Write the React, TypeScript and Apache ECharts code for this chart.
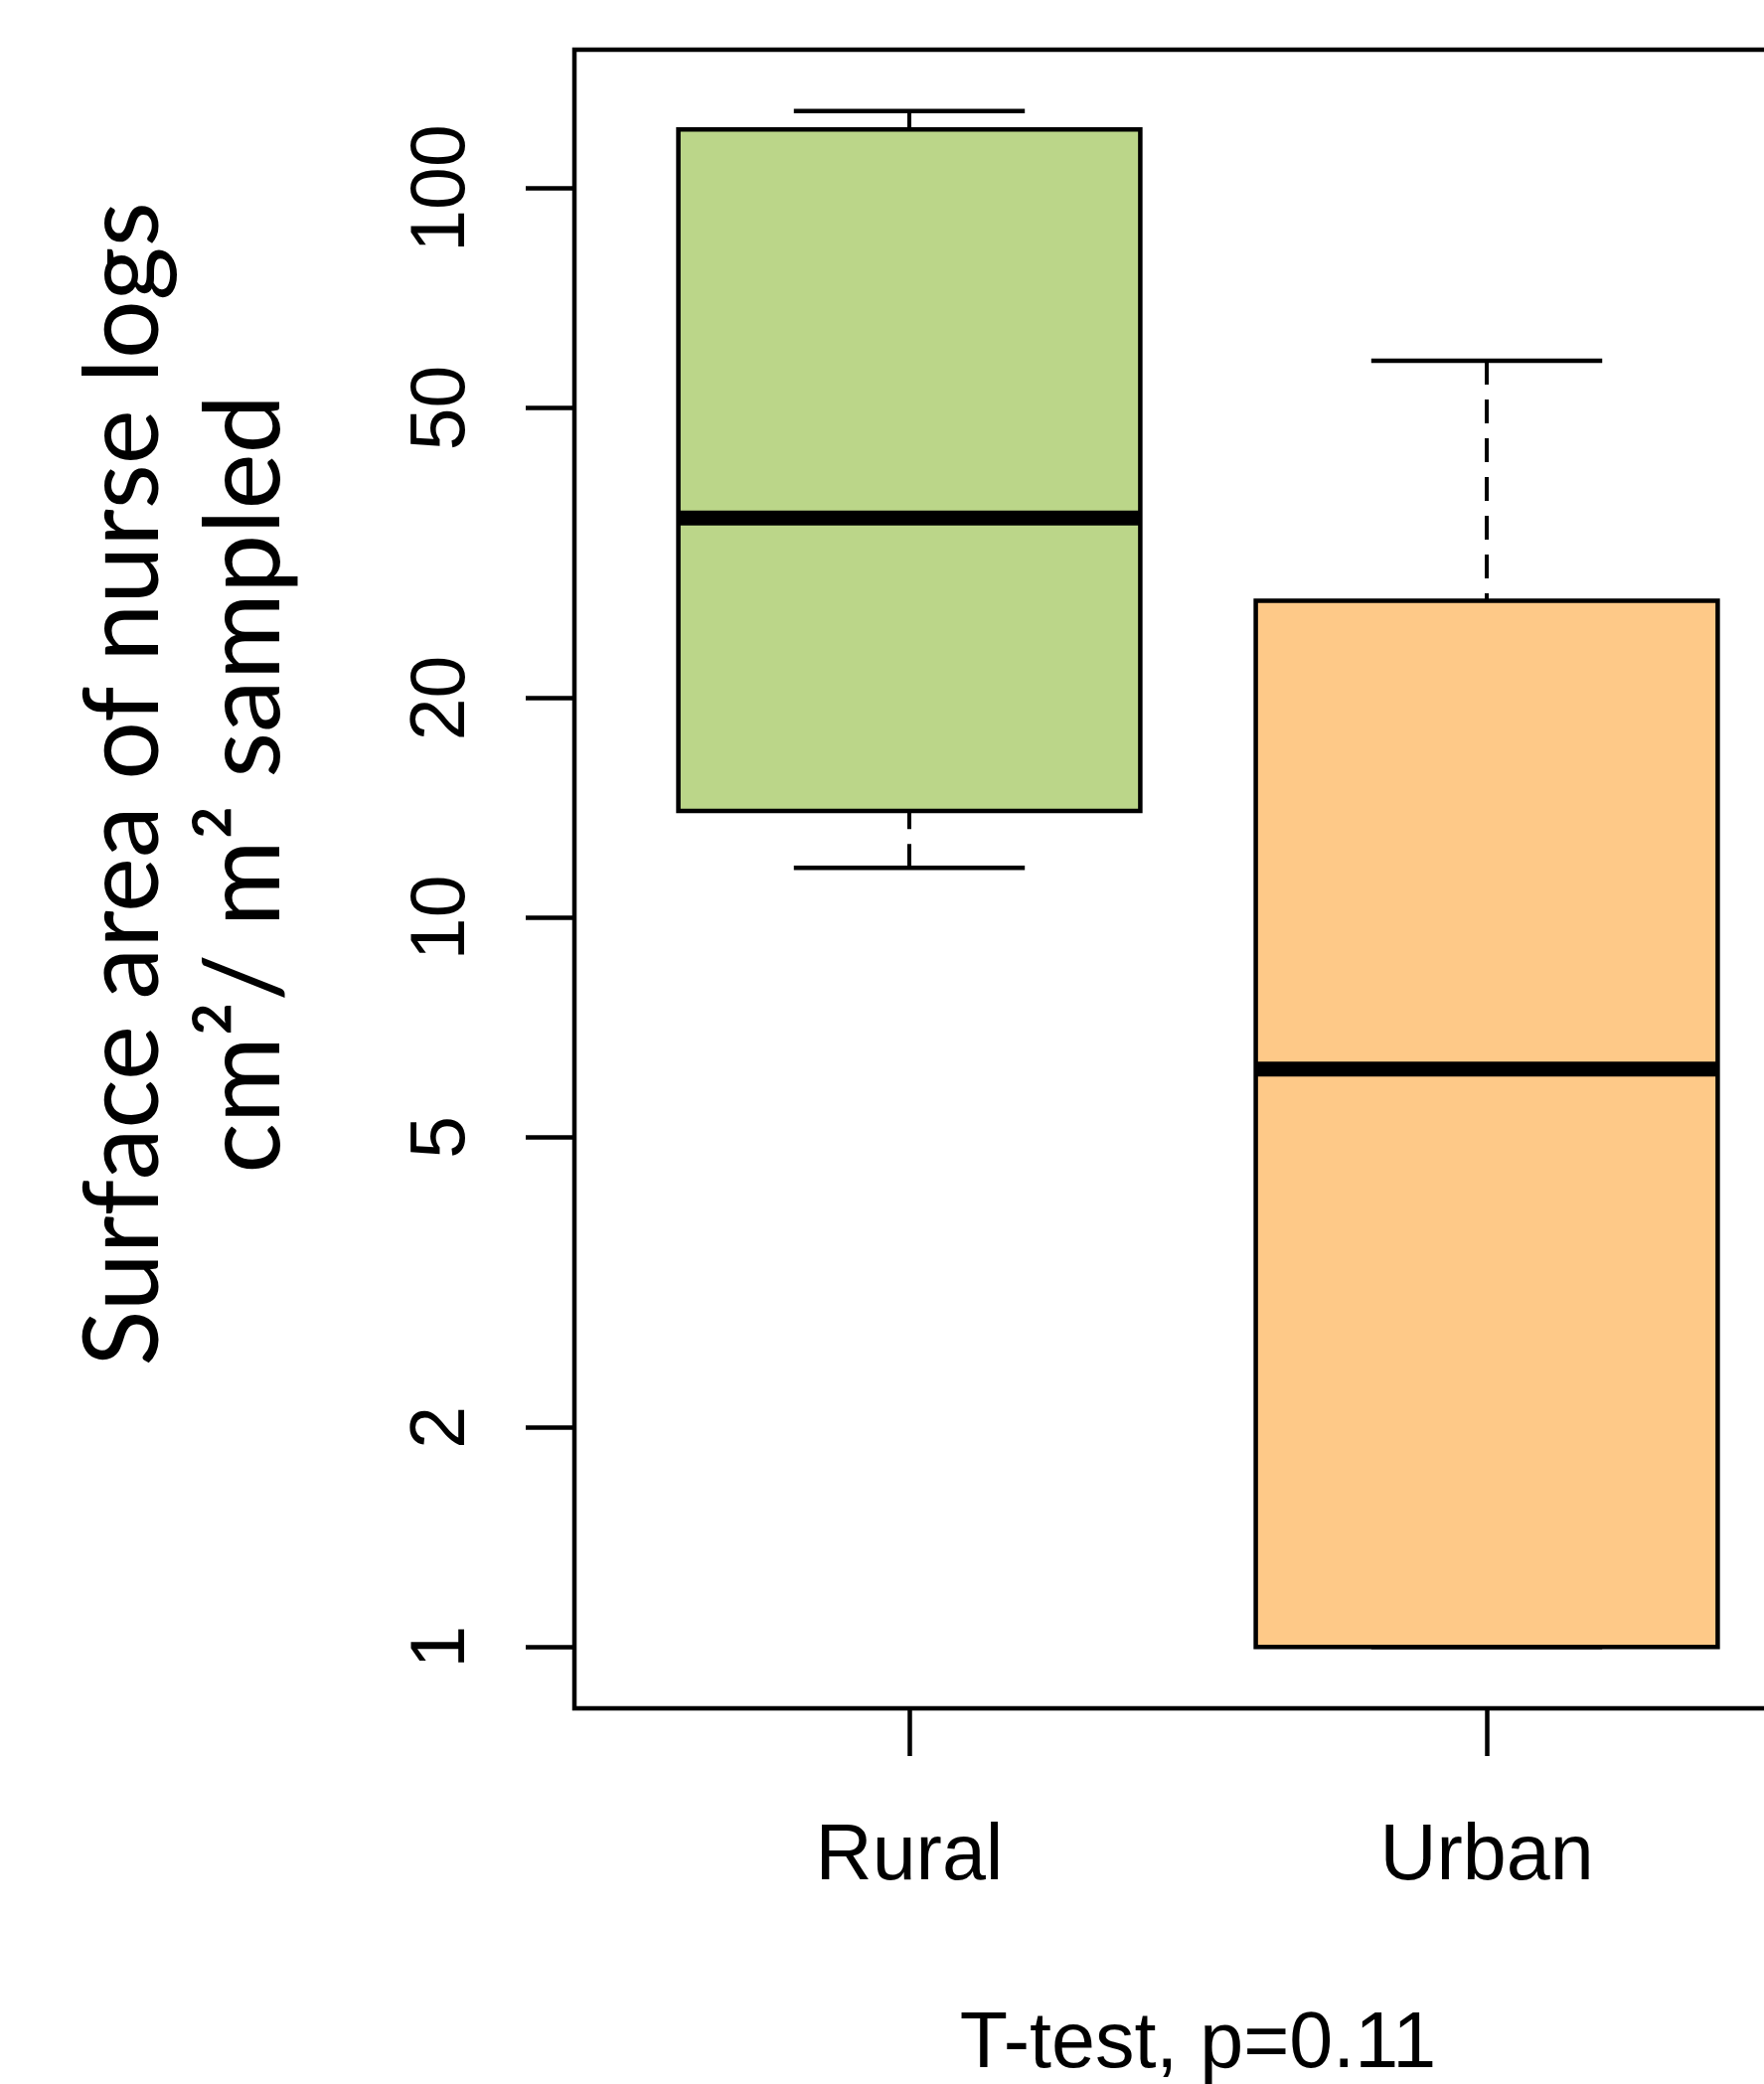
import React, { useEffect, useRef } from "react";
import * as echarts from "echarts";

// ---- data ----
const categories = ["Rural", "Urban"];
const whiskerLow = [11.7, 1.0];
const quartile1 = [14.0, 1.0];
const medians = [35.3, 6.2];
const quartile3 = [120.4, 27.2];
const whiskerHigh = [127.6, 58.0];
const boxColors = ["#BBD689", "#FEC988"];
const yTickValues = [1, 2, 5, 10, 20, 50, 100];
const yTickLabels = ["1", "2", "5", "10", "20", "50", "100"];
const yTitleLines = ["Surface area of nurse logs", "cm²/ m² sampled"];
const xTitle = "T-test, p=0.11";

const BOX_WIDTH = 0.8;
const CAP_WIDTH = 0.4;

const CHART_W = 1900;
const CHART_H = 2097;

export default function App() {
  const ref = useRef<HTMLDivElement>(null);

  useEffect(() => {
    document.body.style.margin = "0";
    document.body.style.overflow = "hidden";
    if (!ref.current) return;
    const chart = echarts.init(ref.current, null, { renderer: "svg" });

    const lg = (v: number) => Math.log10(v);
    const allVals = [...whiskerLow, ...quartile1, ...medians, ...quartile3, ...whiskerHigh];
    const yLo = Math.min(...allVals.map(lg));
    const yHi = Math.max(...allVals.map(lg));
    const yPad = 0.04 * (yHi - yLo);
    const n = categories.length;
    const xPad = 0.04 * n;

    const seriesData = categories.map((c, i) => [
      i + 1,
      lg(whiskerLow[i]),
      lg(quartile1[i]),
      lg(medians[i]),
      lg(quartile3[i]),
      lg(whiskerHigh[i]),
    ]);

    const tickLogs = yTickValues.map(lg);
    const yLabel = (v: number) => {
      for (let i = 0; i < tickLogs.length; i++) {
        if (Math.abs(tickLogs[i] - v) < 1e-6) return yTickLabels[i];
      }
      return "";
    };

    const LW = 4.5;

    const option: any = {
      animation: false,
      backgroundColor: "#ffffff",
      grid: {
        left: 578,
        right: CHART_W - 1833,
        top: 50,
        bottom: 372,
        show: true,
        borderColor: "#000",
        borderWidth: LW,
        backgroundColor: "transparent",
      },
      xAxis: {
        type: "value",
        min: 0.5 - xPad,
        max: n + 0.5 + xPad,
        axisLine: { show: false, onZero: false },
        splitLine: { show: false },
        axisTick: {
          show: true,
          customValues: categories.map((c, i) => i + 1),
          length: 48,
          lineStyle: { color: "#000", width: LW },
        },
        axisLabel: {
          show: true,
          customValues: categories.map((c, i) => i + 1),
          formatter: (v: number) => categories[Math.round(v) - 1] ?? "",
          margin: 105,
          fontFamily: "Liberation Sans",
          fontSize: 79,
          color: "#000",
        },
        name: xTitle,
        nameLocation: "middle",
        nameGap: 294,
        nameTextStyle: {
          fontFamily: "Liberation Sans",
          fontSize: 79,
          color: "#000",
        },
      },
      yAxis: {
        type: "value",
        min: yLo - yPad,
        max: yHi + yPad,
        axisLine: { show: false, onZero: false },
        splitLine: { show: false },
        axisTick: {
          show: true,
          customValues: tickLogs,
          length: 49,
          lineStyle: { color: "#000", width: LW },
        },
        axisLabel: {
          show: true,
          customValues: tickLogs,
          formatter: yLabel,
          rotate: 90,
          margin: 100,
          fontFamily: "Liberation Sans",
          fontSize: 77,
          color: "#000",
        },
      },
      series: [
        {
          type: "custom",
          data: seriesData,
          encode: { x: 0, y: [1, 2, 3, 4, 5] },
          renderItem: (params: any, api: any) => {
            const x = api.value(0);
            const lo = api.value(1);
            const q1 = api.value(2);
            const med = api.value(3);
            const q3 = api.value(4);
            const hi = api.value(5);
            const hb = BOX_WIDTH / 2;
            const hc = CAP_WIDTH / 2;
            const c = (xx: number, yy: number) => api.coord([xx, yy]);
            const seg = (a: number[], b: number[], style: any) => ({
              type: "line",
              shape: { x1: a[0], y1: a[1], x2: b[0], y2: b[1] },
              style,
            });
            const dashed = { stroke: "#000", lineWidth: 4, lineDash: [24, 15], fill: null };
            const solid = { stroke: "#000", lineWidth: LW, fill: null };
            const bl = c(x - hb, q1);
            const tr = c(x + hb, q3);
            return {
              type: "group",
              children: [
                seg(c(x, hi), c(x, q3), dashed),
                seg(c(x, lo), c(x, q1), dashed),
                seg(c(x - hc, hi), c(x + hc, hi), solid),
                seg(c(x - hc, lo), c(x + hc, lo), solid),
                {
                  type: "rect",
                  shape: { x: bl[0], y: tr[1], width: tr[0] - bl[0], height: bl[1] - tr[1] },
                  style: { fill: boxColors[params.dataIndex], stroke: "#000", lineWidth: LW },
                },
                seg(c(x - hb, med), c(x + hb, med), { stroke: "#000", lineWidth: 15 }),
              ],
            };
          },
        },
      ],
      graphic: [
        {
          type: "text",
          x: 118,
          y: 789,
          rotation: Math.PI / 2,
          style: {
            text: yTitleLines[0],
            font: "104px Lato",
            fill: "#000",
            align: "center",
            verticalAlign: "middle",
          },
        },
        {
          type: "text",
          x: 240,
          y: 789,
          rotation: Math.PI / 2,
          style: {
            text: yTitleLines[1],
            font: "106px Lato",
            fill: "#000",
            align: "center",
            verticalAlign: "middle",
          },
        },
      ],
    };

    chart.setOption(option);
    return () => chart.dispose();
  }, []);

  return <div ref={ref} style={{ width: CHART_W, height: CHART_H }} />;
}
